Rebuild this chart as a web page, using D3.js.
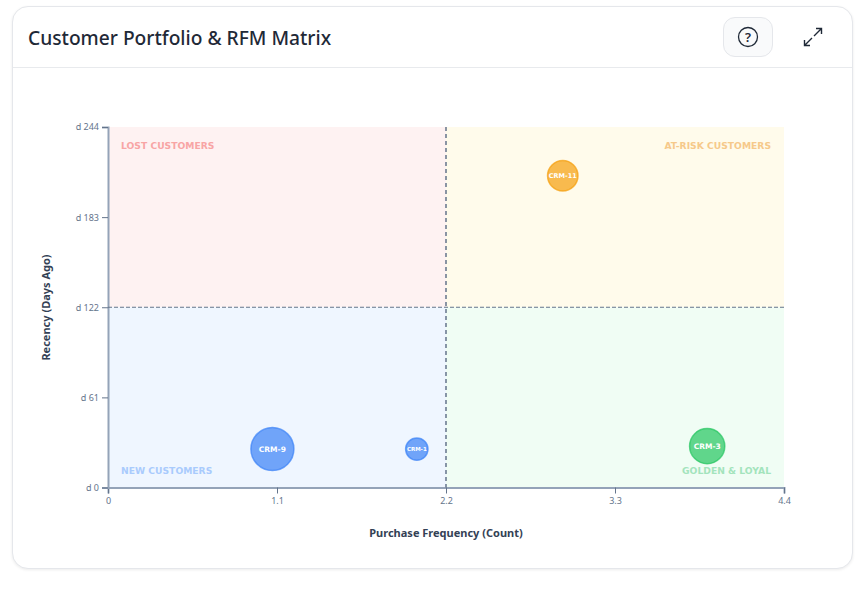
<!DOCTYPE html>
<html lang="en">
<head>
<meta charset="UTF-8">
<title>Customer Portfolio & RFM Matrix</title>
<script src="https://cdn.jsdelivr.net/npm/d3@7"></script>
<style>
	html, body { margin: 0; padding: 0; background: #fff; }
	body { width: 863px; height: 596px; overflow: hidden; position: relative; }
	#card {
		position: absolute; left: 12px; top: 6px; width: 839px; height: 561px;
		border: 1px solid #e5e7eb; border-radius: 16px; background: #fff;
		box-shadow: 0 1px 3px rgba(0,0,0,0.08);
	}
	#head { position: absolute; left: 0; top: 0; right: 0; height: 60px; border-bottom: 1px solid #e8eaed; }
	#title {
		position: absolute; left: 15px; top: 16px; font: 500 19.2px "Noto Sans", sans-serif;
		color: #1f2937; line-height: 30px; white-space: nowrap;
	}
	#help {
		position: absolute; left: 710px; top: 10px; width: 48px; height: 38px;
		border: 1px solid #e5e7eb; border-radius: 12px; background: #f9fafb;
	}
	#chart { position: absolute; left: 0; top: 0; }
</style>
</head>
<body>
	<div id="card">
		<div id="head">
			<div id="title">Customer Portfolio &amp; RFM Matrix</div>
			<div id="help"></div>
		</div>
	</div>
	<svg id="chart" width="863" height="596"></svg>

<script>
	const customers = ['CRM-9', 'CRM-1', 'CRM-3', 'CRM-11'];
	const frequency = [1.07, 2.01, 3.9, 2.96];
	const recency = [26, 26, 28, 211];
	const sizes = [100, 27, 67, 50];
	const xTicks = [0, 1.1, 2.2, 3.3, 4.4];
	const yTicks = [0, 61, 122, 183, 244];
	const quadrantNames = ['LOST CUSTOMERS', 'AT-RISK CUSTOMERS', 'NEW CUSTOMERS', 'GOLDEN & LOYAL'];

	const svg = d3.select('#chart');
	const left = 108, right = 784, top_ = 127, bottom = 487.5;
	const labelFont = '"DejaVu Sans", Verdana, sans-serif';
	const tickFont = '"Noto Sans", Tahoma, sans-serif';

	const x = d3.scaleLinear().domain([0, 4.4]).range([left, right]);
	const y = d3.scaleLinear().domain([0, 244]).range([bottom, top_]);
	const r = d3.scaleSqrt().domain([0, 100]).range([0, 21.5]);

	// quadrants
	const quadrants = [
		{ x0: 0, x1: 2.2, y0: 122, y1: 244, fill: '#fef2f2', text: '#f8a5a5', anchor: 'start', top: true },
		{ x0: 2.2, x1: 4.4, y0: 122, y1: 244, fill: '#fffbeb', text: '#f6c98a', anchor: 'end', top: true },
		{ x0: 0, x1: 2.2, y0: 0, y1: 122, fill: '#eff6ff', text: '#a9cbfd', anchor: 'start', top: false },
		{ x0: 2.2, x1: 4.4, y0: 0, y1: 122, fill: '#f0fdf4', text: '#a3e4bc', anchor: 'end', top: false }
	];
	quadrants.forEach((q, i) => {
		svg.append('rect')
			.attr('x', x(q.x0)).attr('y', y(q.y1))
			.attr('width', x(q.x1) - x(q.x0)).attr('height', y(q.y0) - y(q.y1))
			.attr('fill', q.fill);
		svg.append('text')
			.attr('x', q.anchor === 'start' ? x(q.x0) + 13 : x(q.x1) - 13)
			.attr('y', q.top ? y(q.y1) + 22 : y(q.y0) - 14)
			.attr('text-anchor', q.anchor)
			.attr('font-family', labelFont).attr('font-size', 9.2).attr('font-weight', 700)
			.attr('fill', q.text)
			.text(quadrantNames[i]);
	});

	// axes
	const xAxis = d3.axisBottom(x).tickValues(xTicks).tickFormat(d => d).tickSize(6).tickSizeOuter(6);
	const yAxis = d3.axisLeft(y).tickValues(yTicks).tickFormat(d => 'd ' + d).tickSize(6).tickSizeOuter(6);

	const gx = svg.append('g').attr('transform', `translate(0,${bottom})`).call(xAxis);
	const gy = svg.append('g').attr('transform', `translate(${left},0)`).call(yAxis);
	[gx, gy].forEach(g => {
		g.select('.domain').attr('stroke', '#94a3b8').attr('stroke-width', 2);
		g.selectAll('.tick line').attr('stroke', '#64748b');
		g.selectAll('.tick text').attr('fill', '#64748b').attr('font-family', tickFont).attr('font-size', 9);
	});
	gx.selectAll('.tick text').attr('dy', '0.85em');

	// dashed medians
	svg.append('line').attr('x1', x(2.2)).attr('x2', x(2.2)).attr('y1', top_).attr('y2', bottom)
		.attr('stroke', '#64748b').attr('stroke-width', 1.5).attr('stroke-dasharray', '4 3');
	svg.append('line').attr('x1', left).attr('x2', right).attr('y1', y(122)).attr('y2', y(122))
		.attr('stroke', '#64748b').attr('stroke-width', 1).attr('stroke-dasharray', '4 2');

	// axis titles
	svg.append('text').attr('x', 446).attr('y', 537).attr('text-anchor', 'middle')
		.attr('font-family', tickFont).attr('font-size', 11).attr('font-weight', 700).attr('fill', '#334155')
		.text('Purchase Frequency (Count)');
	svg.append('text').attr('transform', 'translate(50,307.5) rotate(-90)').attr('text-anchor', 'middle')
		.attr('font-family', tickFont).attr('font-size', 11).attr('font-weight', 700).attr('fill', '#334155')
		.text('Recency (Days Ago)');

	// bubbles
	const palette = ['#3b82f6', '#3b82f6', '#22c55e', '#f59e0b'];
	customers.forEach((c, i) => {
		const rad = r(sizes[i]);
		svg.append('circle')
			.attr('cx', x(frequency[i])).attr('cy', y(recency[i])).attr('r', rad)
			.attr('fill', palette[i]).attr('fill-opacity', 0.7)
			.attr('stroke', palette[i]).attr('stroke-opacity', 0.7).attr('stroke-width', 1.5);
		svg.append('text')
			.attr('x', x(frequency[i])).attr('y', y(recency[i]))
			.attr('dy', '0.35em').attr('text-anchor', 'middle')
			.attr('font-family', labelFont).attr('font-weight', 700)
			.attr('font-size', rad < 13 ? 5.5 : rad < 17 ? 6.5 : 7.5).attr('fill', '#fff')
			.text(c);
	});

	// header icons
	const ink = '#1f2937';
	const help = svg.append('g').attr('transform', 'translate(748,37)');
	help.append('circle').attr('r', 9.5).attr('fill', 'none').attr('stroke', ink).attr('stroke-width', 1.3);
	help.append('text').attr('text-anchor', 'middle').attr('dy', '0.36em')
		.attr('font-family', tickFont).attr('font-size', 13).attr('font-weight', 600).attr('fill', ink).text('?');

	const expand = svg.append('g').attr('transform', 'translate(813,37)')
		.attr('fill', 'none').attr('stroke', ink).attr('stroke-width', 1.4);
	expand.append('path').attr('d', 'M1,-1 L8,-8 M3,-8.5 H8.5 V-3');
	expand.append('path').attr('d', 'M-1,1 L-8,8 M-8.5,3 V8.5 H-3');
</script>
</body>
</html>
